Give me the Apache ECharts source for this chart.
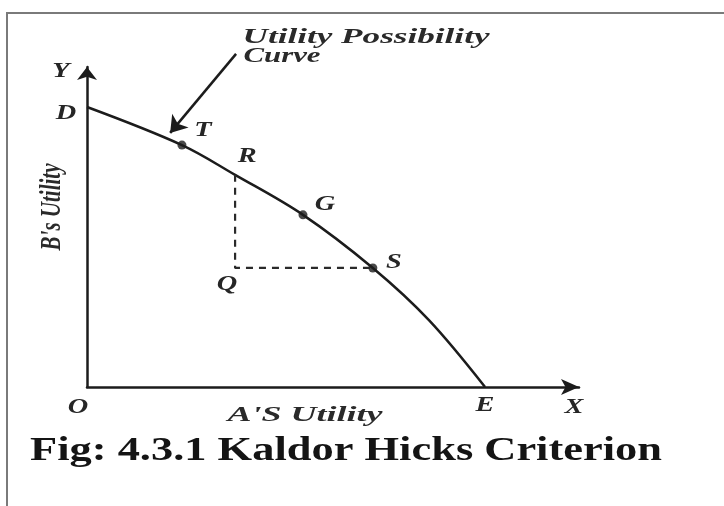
<!DOCTYPE html>
<html>
<head>
<meta charset="utf-8">
<script src="https://cdn.jsdelivr.net/npm/echarts@6/dist/echarts.min.js"></script>
<style>
  html, body { margin: 0; padding: 0; background: #fff; }
  #chart { width: 724px; height: 506px; }
</style>
</head>
<body>
<div id="chart"></div>
<script>
// Utility possibility curve (A's utility on x, B's utility on y)
const curveX = [0, 19.3, 30.1, 43.9, 58.1, 69.5, 80.9];
const curveY = [87.5, 75.6, 66.3, 53.8, 37.2, 20.9, 0];

// Named points on the frontier
const pointNames = ['D', 'T', 'R', 'G', 'S', 'E'];
const pointX = [0, 19.3, 30.1, 43.9, 58.1, 80.9];
const pointY = [87.5, 75.6, 66.3, 53.8, 37.2, 0];

// Points marked with a dot
const dotNames = ['T', 'G', 'S'];

// Q lies below R and level with S
const pointQ = [30.1, 37.2];

// Pointer from the curve caption to the curve
const pointerFrom = [30.3, 104.1];
const pointerTo = [16.9, 79.4];

const xAxisMax = 100;
const yAxisMax = 100;

const titleText = 'Fig: 4.3.1 Kaldor Hicks Criterion';
const xAxisTitle = "A'S Utility";
const yAxisTitle = "B's Utility";
const curveCaption = ['Utility Possibility', 'Curve'];

const ink = '#1c1c1c';
const coord = name => {
  const i = pointNames.indexOf(name);
  return [pointX[i], pointY[i]];
};
const curveData = curveX.map((x, i) => [x, curveY[i]]);

const chart = echarts.init(document.getElementById('chart'), null, { renderer: 'canvas' });

chart.setOption({
  animation: false,
  backgroundColor: '#fff',
  grid: { left: 87, top: 67, width: 492, height: 320 },
  xAxis: {
    type: 'value', min: 0, max: xAxisMax,
    axisLine: { show: true, lineStyle: { color: ink, width: 2.5 }, symbol: ['none', 'arrow'], symbolSize: [12, 18] },
    axisTick: { show: false }, axisLabel: { show: false }, splitLine: { show: false }
  },
  yAxis: {
    type: 'value', min: 0, max: yAxisMax,
    axisLine: { show: true, lineStyle: { color: ink, width: 2.5 }, symbol: ['none', 'arrow'], symbolSize: [15, 13] },
    axisTick: { show: false }, axisLabel: { show: false }, splitLine: { show: false }
  },
  series: [
    {
      type: 'line', data: curveData, smooth: 0.35, showSymbol: false, silent: true,
      lineStyle: { color: ink, width: 2.5 }
    },
    {
      type: 'line', data: [coord('R'), pointQ, coord('S')], showSymbol: false, silent: true,
      lineStyle: { color: '#2a2a2a', width: 2.2, type: [7, 6] }
    },
    {
      type: 'scatter', data: dotNames.map(coord), symbolSize: 9, silent: true,
      itemStyle: { color: ink }
    },
    {
      type: 'lines', coordinateSystem: 'cartesian2d', clip: false, silent: true,
      symbol: ['none', 'arrow'], symbolSize: 16,
      lineStyle: { color: ink, width: 2.5, opacity: 1, curveness: 0 },
      data: [{ coords: [pointerFrom, pointerTo] }]
    }
  ]
});

// Text is drawn as graphic elements, horizontally widened to the target width
const measure = (() => {
  const ctx = document.createElement('canvas').getContext('2d');
  return (text, font) => { ctx.font = font; return ctx.measureText(text).width; };
})();

const px = p => chart.convertToPixel({ gridIndex: 0 }, p);
const italic = (size, weight) => `italic ${weight || 'normal'} ${size}px "Liberation Serif"`;

function textEl(text, cx, cy, font, opts) {
  opts = opts || {};
  const w = measure(text, font);
  const s = opts.width ? opts.width / w : (opts.scale || 1.5);
  const el = {
    type: 'text', x: cx, y: cy, silent: true,
    style: { text, font, fill: opts.color || '#222', textAlign: 'center', textVerticalAlign: 'middle' }
  };
  if (opts.rotate) { el.rotation = opts.rotate; el.scaleY = s; el.scaleX = opts.along || 1; }
  else { el.scaleX = s; }
  return el;
}

// Letter labels: anchor point plus a pixel offset
const letterLabels = [
  ['D', coord('D'), -21, 7],
  ['T', coord('T'), 21, -15],
  ['R', coord('R'), 12, -18],
  ['G', coord('G'), 22, -10],
  ['S', coord('S'), 21, -5],
  ['Q', pointQ, -8, 17],
  ['E', coord('E'), 0, 19],
  ['O', [0, 0], -9, 21],
  ['X', [xAxisMax, 0], -5, 21],
  ['Y', [0, yAxisMax], -26, 5]
];

const graphics = [
  {
    type: 'polyline', silent: true,
    shape: { points: [[7, 506], [7, 13], [724, 13]] },
    style: { stroke: '#7a7a7a', lineWidth: 2, fill: null }
  }
];

letterLabels.forEach(([t, p, dx, dy]) => {
  const q = px(p);
  graphics.push(textEl(t, q[0] + dx, q[1] + dy, italic(21, 'bold'), { scale: 1.35, color: '#262626' }));
});

graphics.push(textEl(curveCaption[0], 366, 38, italic(21, 'bold'), { width: 247, color: '#2a2a2a' }));
graphics.push(textEl(curveCaption[1], 282, 57, italic(21, 'bold'), { width: 77, color: '#2a2a2a' }));
graphics.push(textEl(xAxisTitle, 305, 416, italic(21, 'bold'), { width: 155, color: '#2a2a2a' }));
graphics.push(textEl(yAxisTitle, 52, 207, italic(21, 'bold'), { rotate: Math.PI / 2, scale: 1.4, along: 1.0, color: '#2a2a2a' }));
graphics.push(textEl(titleText, 346, 451, `bold 34px "Liberation Serif"`, { width: 632, color: '#141414' }));

chart.setOption({ graphic: graphics });
</script>
</body>
</html>
